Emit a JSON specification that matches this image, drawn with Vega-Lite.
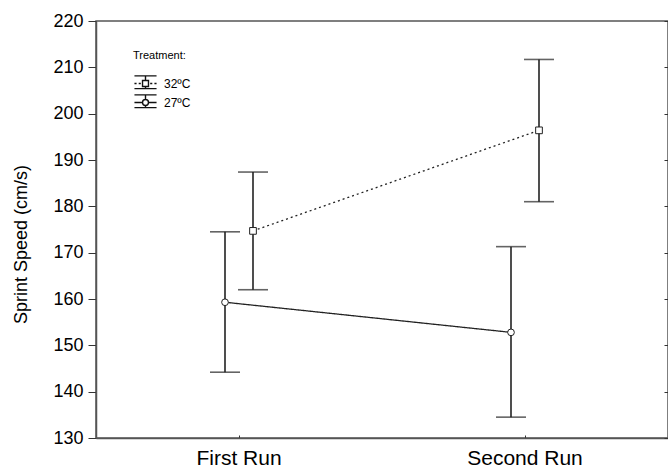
{
  "$schema": "https://vega.github.io/schema/vega-lite/v6.json",
  "width": 572,
  "height": 417,
  "autosize": "none",
  "padding": {"left": 96, "top": 21, "right": 0, "bottom": 30},
  "background": "white",
  "config": {
    "font": "Liberation Sans",
    "view": {"stroke": "#555", "strokeWidth": 1.5},
    "axis": {"grid": false, "domainColor": "#555", "domainWidth": 1.5, "tickColor": "#333", "labelColor": "#000", "titleColor": "#000"}
  },
  "data": {
    "values": [
      {"run": "First Run", "treatment": "32ºC", "mean": 174.7, "lo": 162.0, "hi": 187.4},
      {"run": "First Run", "treatment": "27ºC", "mean": 159.3, "lo": 144.2, "hi": 174.5},
      {"run": "Second Run", "treatment": "32ºC", "mean": 196.4, "lo": 181.0, "hi": 211.7},
      {"run": "Second Run", "treatment": "27ºC", "mean": 152.8, "lo": 134.5, "hi": 171.3}
    ]
  },
  "encoding": {
    "x": {
      "field": "run", "type": "nominal",
      "scale": {"domain": ["First Run", "Second Run"], "paddingInner": 0, "paddingOuter": 0},
      "axis": {"title": null, "labelAngle": 0, "labelFontSize": 21, "tickSize": -3, "labelPadding": 12, "domainWidth": 1.5}
    },
    "xOffset": {
      "field": "treatment", "type": "nominal",
      "scale": {"domain": ["27ºC", "32ºC"], "range": [115, 171], "paddingInner": 0, "paddingOuter": 0}
    }
  },
  "layer": [
    {
      "layer": [
        {
          "mark": {"type": "rule", "color": "#222", "strokeWidth": 1.6},
          "encoding": {
            "y": {"field": "lo", "type": "quantitative", "scale": {"domain": [130, 220], "nice": false, "zero": false},
              "axis": {"title": "Sprint Speed (cm/s)", "titleFontSize": 18, "titleFontWeight": "normal", "titlePadding": 22, "titleY": 223,
                "labelFontSize": 18, "values": [130, 140, 150, 160, 170, 180, 190, 200, 210, 220], "tickSize": 8, "labelPadding": 5}},
            "y2": {"field": "hi"}
          }
        },
        {
          "mark": {"type": "tick", "color": "#222", "thickness": 1.6, "size": 30},
          "encoding": {"y": {"field": "lo", "type": "quantitative"}}
        },
        {
          "mark": {"type": "tick", "color": "#222", "thickness": 1.6, "size": 30},
          "encoding": {"y": {"field": "hi", "type": "quantitative"}}
        },
        {
          "mark": {"type": "line", "color": "#222", "strokeWidth": 1.3},
          "encoding": {
            "y": {"field": "mean", "type": "quantitative"},
            "strokeDash": {"field": "treatment", "type": "nominal",
              "scale": {"domain": ["32ºC", "27ºC"], "range": [[2, 3], [1, 0]]}, "legend": null}
          }
        },
        {
          "mark": {"type": "point", "filled": true, "fill": "white", "stroke": "#222", "strokeWidth": 1, "size": 45, "opacity": 1},
          "encoding": {
            "y": {"field": "mean", "type": "quantitative"},
            "shape": {"field": "treatment", "type": "nominal",
              "scale": {"domain": ["32ºC", "27ºC"], "range": ["square", "circle"]}, "legend": null}
          }
        },
        {
          "mark": {"type": "point", "opacity": 0},
          "encoding": {
            "y": {"field": "mean", "type": "quantitative"},
            "shape": {"field": "treatment", "type": "nominal",
              "scale": {"domain": ["32ºC", "27ºC"], "range": [
                "M-1.3,-0.9H1.3M-1.3,0.6H1.3M0,-0.9V-0.35M0,0.35V0.6M-1.3,0H-1.05M-0.8,0H-0.55M0.55,0H0.8M1.05,0H1.3M-0.35,-0.35H0.35V0.35H-0.35Z",
                "M-1.3,-0.9H1.3M-1.3,0.6H1.3M0,-0.9V-0.35M0,0.35V0.6M-1.3,0H-0.35M0.35,0H1.3M0.35,0A0.35,0.35 0 1,1 -0.35,0A0.35,0.35 0 1,1 0.35,0Z"
              ]},
              "legend": {"orient": "none", "legendX": 37, "legendY": 29, "title": "Treatment:", "titleFontSize": 11, "titleFontWeight": "normal",
                "titleColor": "#000", "titlePadding": 13, "labelFontSize": 12, "labelColor": "#000", "symbolSize": 289,
                "symbolStrokeColor": "#111", "symbolFillColor": "white", "symbolStrokeWidth": 1.4, "symbolOpacity": 1,
                "rowPadding": 0, "symbolOffset": 3, "labelOffset": 9, "padding": 0}
            }
          }
        }
      ],
      "resolve": {"scale": {"shape": "independent"}}
    },
    {
      "mark": {"type": "rule", "opacity": 0},
      "encoding": {
        "y": {"field": "mean", "type": "quantitative", "scale": {"domain": [130, 220], "nice": false, "zero": false},
          "axis": {"orient": "right", "title": null, "labels": false, "domain": false, "tickSize": -4,
            "values": [130, 140, 150, 160, 170, 180, 190, 200, 210, 220]}}
      }
    }
  ],
  "resolve": {"scale": {"y": "independent"}, "axis": {"y": "independent"}}
}
